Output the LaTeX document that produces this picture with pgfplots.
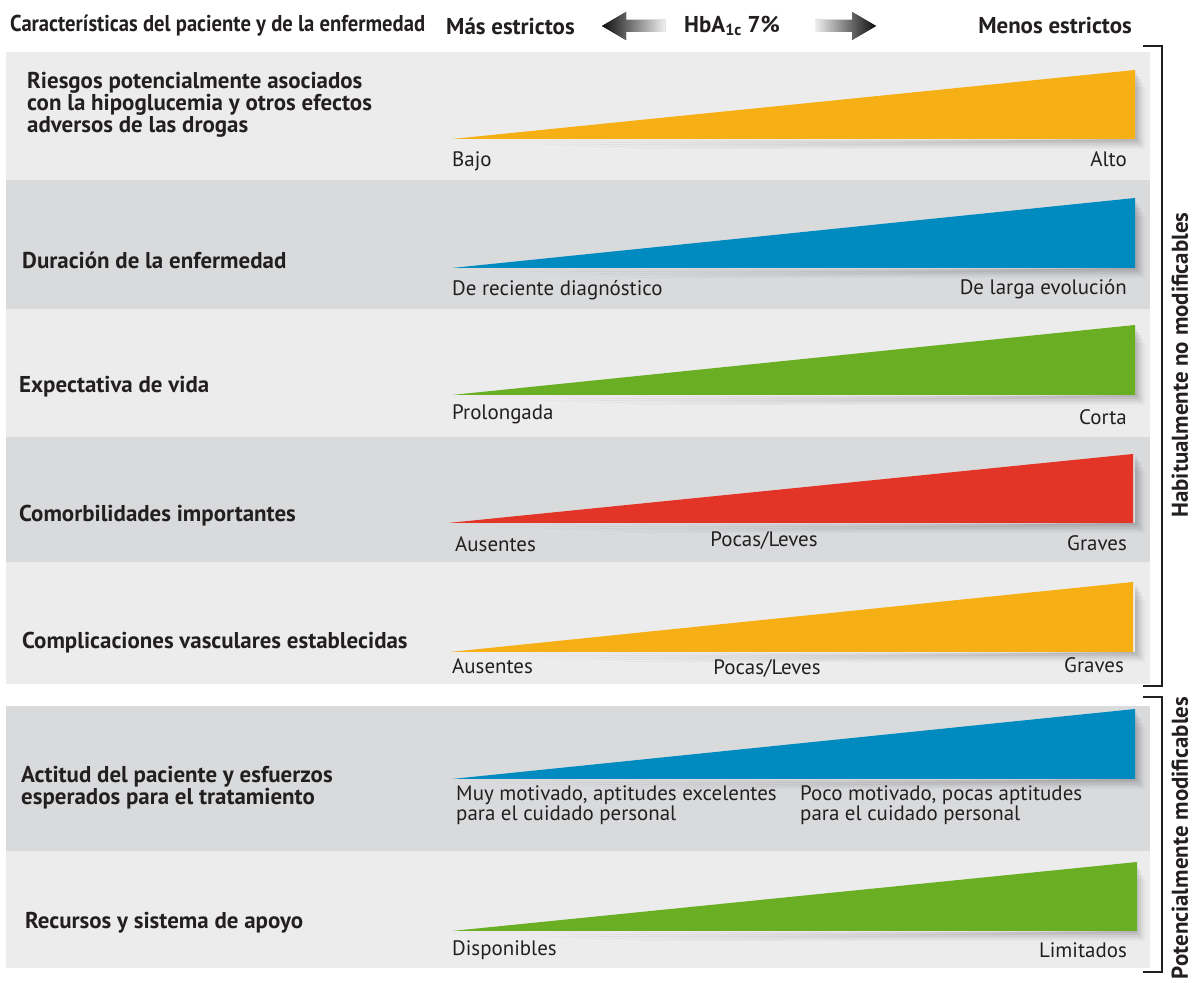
\documentclass[border=0pt]{standalone}
\usepackage{pgfplots}
\pgfplotsset{compat=1.18}
\usepackage{fontspec}
\setmainfont{PT Sans}
\definecolor{cyellow}{HTML}{F6B016}
\definecolor{cblue}{HTML}{008BC0}
\definecolor{cgreen}{HTML}{6AAF23}
\definecolor{cred}{HTML}{E33527}
\definecolor{blight}{HTML}{ECECEC}
\definecolor{bdark}{HTML}{D9DADC}
\definecolor{ink}{HTML}{231F20}
\newcommand{\hd}{\fontsize{23}{24}\selectfont\bfseries}
\newcommand{\hdb}{\fontsize{23}{23}\selectfont\bfseries}
\newcommand{\sm}{\fontsize{21}{21}\selectfont}
\begin{document}
\begin{tikzpicture}
\begin{axis}[x=1bp,y=1bp,xmin=0,xmax=1193,ymin=0,ymax=983,hide axis,clip=false]
% background
\addplot[fill=white,draw=none] coordinates {(0,0) (1193,0) (1193,983) (0,983)} --cycle;
% bands
\addplot[fill=blight,draw=none] coordinates {(6,803) (1150,803) (1150,931) (6,931)} --cycle;
\addplot[fill=bdark,draw=none] coordinates {(6,674) (1150,674) (1150,803) (6,803)} --cycle;
\addplot[fill=blight,draw=none] coordinates {(6,546) (1150,546) (1150,674) (6,674)} --cycle;
\addplot[fill=bdark,draw=none] coordinates {(6,421) (1150,421) (1150,546) (6,546)} --cycle;
\addplot[fill=blight,draw=none] coordinates {(6,299) (1150,299) (1150,421) (6,421)} --cycle;
\addplot[fill=bdark,draw=none] coordinates {(6,132) (1150,132) (1150,277) (6,277)} --cycle;
\addplot[fill=blight,draw=none] coordinates {(6,15) (1150,15) (1150,132) (6,132)} --cycle;
% soft shadows
\pgfplotsinvokeforeach{844,715,588,460,331,204,52}{
\addplot[fill=black,fill opacity=0.06,draw=none] coordinates {(470,#1-2) (1137,#1-2) (1137,#1+66) (1135,#1+66) (1135,#1)} --cycle;
\addplot[fill=black,fill opacity=0.06,draw=none] coordinates {(490,#1-4) (1139,#1-4) (1139,#1+63) (1135,#1+63) (1135,#1)} --cycle;
\addplot[fill=black,fill opacity=0.05,draw=none] coordinates {(520,#1-6) (1141,#1-6) (1141,#1+60) (1135,#1+60) (1135,#1)} --cycle;
\addplot[fill=black,fill opacity=0.04,draw=none] coordinates {(560,#1-8) (1143,#1-8) (1143,#1+56) (1135,#1+56) (1135,#1)} --cycle;
\addplot[fill=black,fill opacity=0.03,draw=none] coordinates {(600,#1-10) (1145,#1-10) (1145,#1+52) (1135,#1+52) (1135,#1)} --cycle;
}
% wedges
\addplot[fill=cyellow,draw=none] coordinates {(452,844) (1135,844) (1135,913)} --cycle;
\addplot[fill=cblue,draw=none] coordinates {(452,715) (1135,715) (1135,785)} --cycle;
\addplot[fill=cgreen,draw=none] coordinates {(452,588) (1135,588) (1135,658)} --cycle;
\addplot[fill=cred,draw=none] coordinates {(448,460) (1133,460) (1133,529)} --cycle;
\addplot[fill=cyellow,draw=none] coordinates {(450,331) (1133,331) (1133,401)} --cycle;
\addplot[fill=cblue,draw=none] coordinates {(452,204) (1135,204) (1135,274)} --cycle;
\addplot[fill=cgreen,draw=none] coordinates {(452,52) (1137,52) (1137,121)} --cycle;
% header
\node[anchor=west,text=ink,inner sep=0] at (axis cs:10,957) {\scalebox{0.9}[1]{\fontsize{23}{24}\selectfont\bfseries Características del paciente y de la enfermedad}};
\node[anchor=west,text=ink,inner sep=0] at (axis cs:446,957) {\hd Más estrictos};
\node[anchor=west,text=ink,inner sep=0] at (axis cs:684,957) {\hd HbA\textsubscript{1c} 7\%};
\node[anchor=east,text=ink,inner sep=0] at (axis cs:1132,957) {\hd Menos estrictos};
\fill[left color=black!95,right color=black!6] (axis cs:602,957) -- (axis cs:626,971) -- (axis cs:626,963) -- (axis cs:665,963) -- (axis cs:665,951) -- (axis cs:626,951) -- (axis cs:626,943) -- cycle;
\fill[left color=black!6,right color=black!95] (axis cs:815,963) -- (axis cs:852,963) -- (axis cs:852,971) -- (axis cs:876,957) -- (axis cs:852,943) -- (axis cs:852,951) -- (axis cs:815,951) -- cycle;
% row titles
\node[anchor=west,align=left,text=ink,inner sep=0] at (axis cs:27,878) {\hd Riesgos potencialmente asociados\\\hd con la hipoglucemia y otros efectos\\\hd adversos de las drogas};
\node[anchor=west,text=ink,inner sep=0] at (axis cs:22,723) {\hd Duración de la enfermedad};
\node[anchor=west,text=ink,inner sep=0] at (axis cs:19,596) {\hd Expectativa de vida};
\node[anchor=west,text=ink,inner sep=0] at (axis cs:19,467) {\hd Comorbilidades importantes};
\node[anchor=west,text=ink,inner sep=0] at (axis cs:22,340) {\hd Complicaciones vasculares establecidas};
\node[anchor=west,align=left,text=ink,inner sep=0] at (axis cs:21,195) {\hdb Actitud del paciente y esfuerzos\\\hdb esperados para el tratamiento};
\node[anchor=west,text=ink,inner sep=0] at (axis cs:25,60) {\hd Recursos y sistema de apoyo};
% sub labels
\node[anchor=west,text=ink,inner sep=0] at (axis cs:452,822) {\sm Bajo};
\node[anchor=east,text=ink,inner sep=0] at (axis cs:1127,824) {\sm Alto};
\node[anchor=west,text=ink,inner sep=0] at (axis cs:452,693) {\sm De reciente diagnóstico};
\node[anchor=east,text=ink,inner sep=0] at (axis cs:1127,694) {\sm De larga evolución};
\node[anchor=west,text=ink,inner sep=0] at (axis cs:452,569) {\sm Prolongada};
\node[anchor=east,text=ink,inner sep=0] at (axis cs:1127,566) {\sm Corta};
\node[anchor=west,text=ink,inner sep=0] at (axis cs:455,439) {\sm Ausentes};
\node[text=ink,inner sep=0] at (axis cs:764,442) {\sm Pocas/Leves};
\node[anchor=east,text=ink,inner sep=0] at (axis cs:1127,440) {\sm Graves};
\node[anchor=west,text=ink,inner sep=0] at (axis cs:452,317) {\sm Ausentes};
\node[text=ink,inner sep=0] at (axis cs:767,314) {\sm Pocas/Leves};
\node[anchor=east,text=ink,inner sep=0] at (axis cs:1124,318) {\sm Graves};
\node[anchor=west,align=left,text=ink,inner sep=0] at (axis cs:456,178) {\sm Muy motivado, aptitudes excelentes\\\sm para el cuidado personal};
\node[anchor=west,align=left,text=ink,inner sep=0] at (axis cs:800,178) {\sm Poco motivado, pocas aptitudes\\\sm para el cuidado personal};
\node[anchor=west,text=ink,inner sep=0] at (axis cs:452,33) {\sm Disponibles};
\node[anchor=east,text=ink,inner sep=0] at (axis cs:1127,33) {\sm Limitados};
% brackets
\draw[line width=1.5bp,ink] (axis cs:1143,937) -- (axis cs:1162,937) -- (axis cs:1162,297) -- (axis cs:1143,297);
\draw[line width=1.5bp,ink] (axis cs:1143,286) -- (axis cs:1162,286) -- (axis cs:1162,11) -- (axis cs:1143,11);
\node[rotate=90,text=ink,inner sep=0] at (axis cs:1180,618) {\hd Habitualmente no modificables};
\node[rotate=90,text=ink,inner sep=0] at (axis cs:1180,145) {\hd Potencialmente modificables};
\end{axis}
\end{tikzpicture}
\end{document}
